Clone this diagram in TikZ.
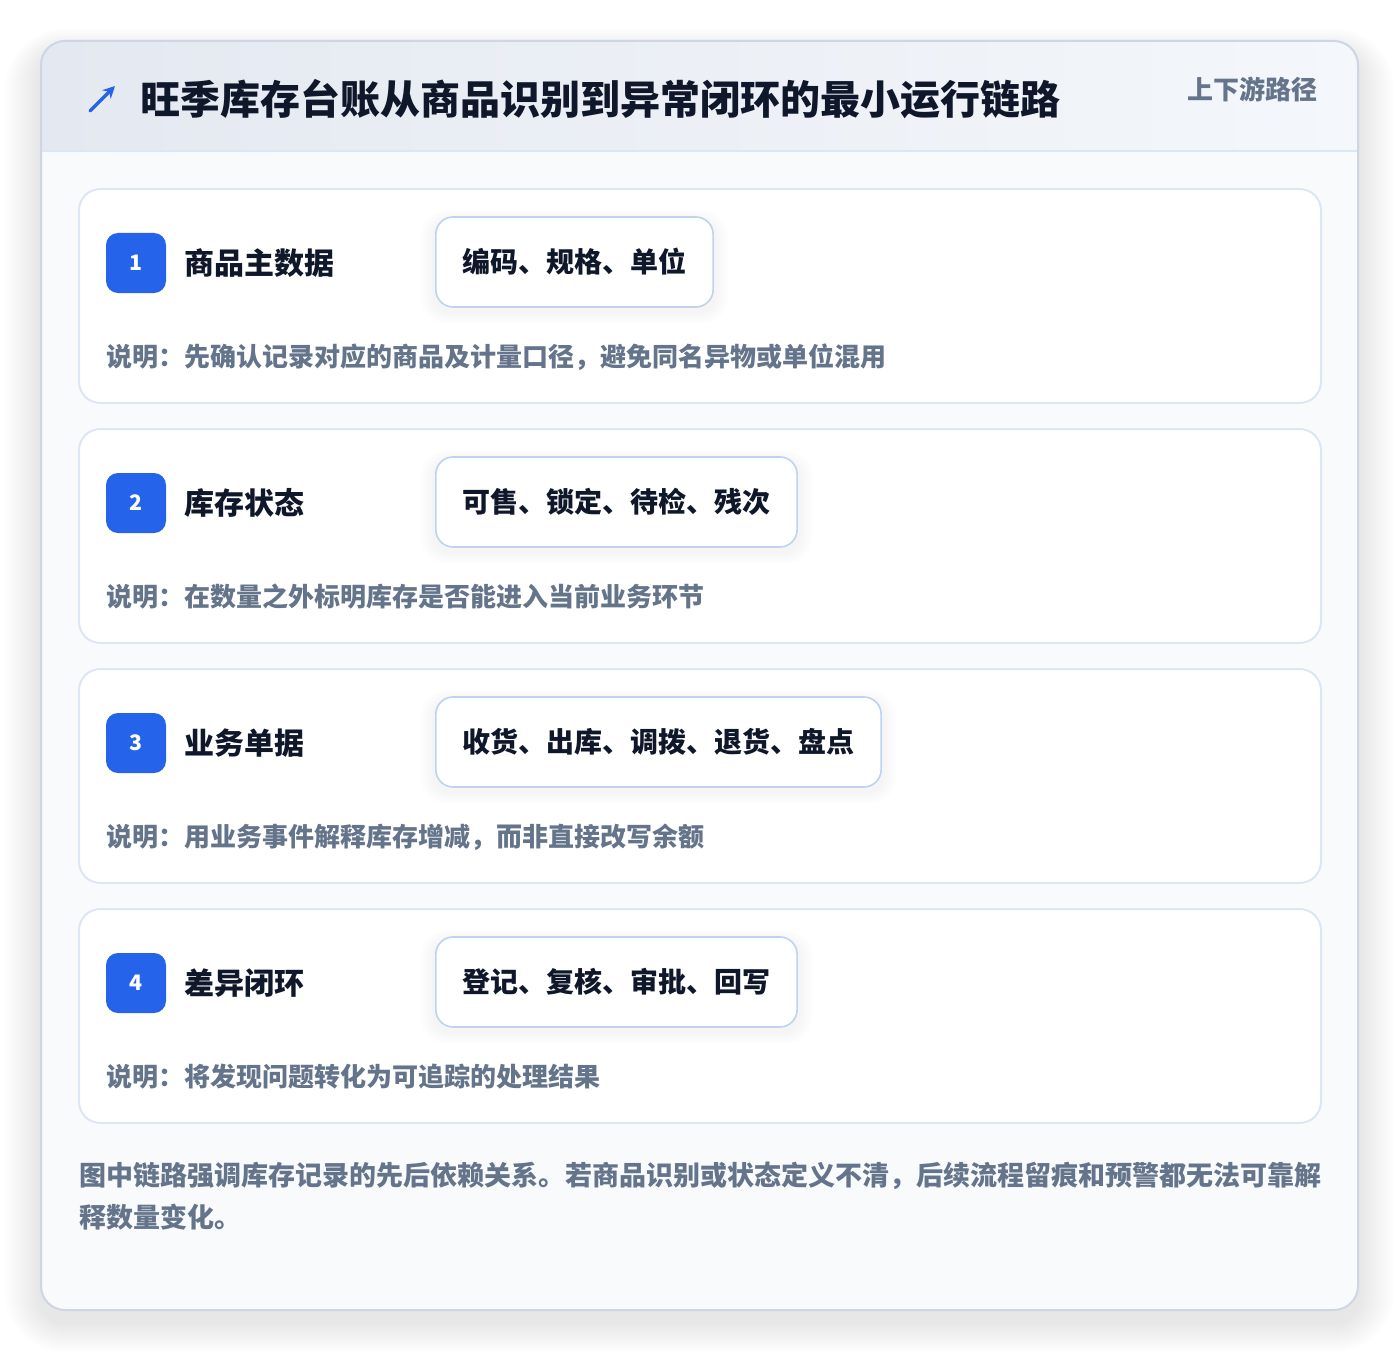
\documentclass[tikz,border=0pt]{standalone}
\usepackage{fontspec}
\newfontfamily\cjk{Noto Sans CJK SC}
\usetikzlibrary{arrows.meta}

\definecolor{ink}{HTML}{0F172A}
\definecolor{muted}{HTML}{64748B}
\definecolor{accent}{HTML}{2563EB}
\definecolor{frameline}{HTML}{CDD6E2}
\definecolor{cardline}{HTML}{DCE7F5}
\definecolor{pillline}{HTML}{BDD3F0}
\definecolor{headA}{HTML}{E4E9F1}
\definecolor{headB}{HTML}{F4F7FB}
\definecolor{bodybg}{HTML}{F8FAFC}

\tikzset{
  stepcard/.style={rounded corners=16pt, draw=cardline, line width=1.5pt, fill=white},
  badge/.style={rounded corners=9pt, fill=accent, text=white, minimum size=45pt, inner sep=0pt,
    font=\cjk\bfseries\fontsize{16}{18}\selectfont},
  steplabel/.style={anchor=west, inner sep=0pt, text=ink, font=\cjk\bfseries\fontsize{22.5}{26}\selectfont},
  pill/.style={anchor=west, rounded corners=13pt, draw=pillline, line width=1.2pt, fill=white,
    minimum height=67.5pt, inner xsep=20pt, text=ink, font=\cjk\bfseries\fontsize{21}{24}\selectfont},
  note/.style={anchor=west, inner sep=0pt, text=muted, font=\cjk\bfseries\fontsize{19.5}{22}\selectfont},
  haze/.style={fill=black, fill opacity=#1},
}

\begin{document}
\begin{tikzpicture}[x=0.75pt, y=-0.75pt]
    \useasboundingbox[fill=white] (0,0) rectangle (1400,1352);
    % soft shadow of the outer card
    \foreach \k in {1,...,12}
        \fill[haze=0.007, rounded corners=18pt+2.2*\k] (41-3*\k,53-2*\k) rectangle (1358+3*\k,1322+2.5*\k);
    \fill[white, rounded corners=18pt] (41,41) rectangle (1358,1310);
    \begin{scope}
        \clip[rounded corners=18pt] (41,41) rectangle (1358,1310);
        \fill[bodybg] (41,151) rectangle (1358,1310);
        \shade[left color=headA, right color=headB] (41,41) rectangle (1358,151);
        \draw[cardline, line width=1.5pt] (41,151) -- (1358,151);
    \end{scope}
    \draw[frameline, line width=1.5pt, rounded corners=18pt] (41,41) rectangle (1358,1310);

    % header
    \coordinate (iconfoot) at (90,111);
    \coordinate (icontip) at (115,86);
    \draw[accent, line width=2.4pt, line cap=round, -{Stealth[length=9pt, width=9pt]}] (iconfoot) -- (icontip);
    \node[anchor=west, inner sep=0pt, text=ink, font=\cjk\bfseries\fontsize{30}{34}\selectfont] (title) at (140,99)
        {旺季库存台账从商品识别到异常闭环的最小运行链路};
    \node[anchor=east, inner sep=0pt, text=muted, font=\cjk\bfseries\fontsize{19.5}{22}\selectfont] (route) at (1318,89)
        {上下游路径};

    % steps
    \foreach \ty/\n/\lab/\tags/\desc in {
        189/1/商品主数据/编码、规格、单位/说明：先确认记录对应的商品及计量口径，避免同名异物或单位混用,
        429/2/库存状态/可售、锁定、待检、残次/说明：在数量之外标明库存是否能进入当前业务环节,
        669/3/业务单据/收货、出库、调拨、退货、盘点/说明：用业务事件解释库存增减，而非直接改写余额,
        909/4/差异闭环/登记、复核、审批、回写/说明：将发现问题转化为可追踪的处理结果} {
        \path[stepcard] (79,\ty) rectangle (1321,\ty+214);
        \node[badge] (badge\n) at (136,\ty+74) {\n};
        \node[steplabel] (label\n) at (184,\ty+74) {\lab};
        \node[pill, text opacity=0, draw=none, fill=none] (slot\n) at (435,\ty+73) {\tags};
        \foreach \s in {1,...,5}
            \fill[haze=0.008, rounded corners=13pt+\s*1.5pt]
                ([xshift=-\s*2.2pt, yshift=-3pt-\s*1.8pt]slot\n.south west) rectangle
                ([xshift=\s*2.2pt, yshift=-3pt+\s*1.5pt]slot\n.north east);
        \node[pill, anchor=center] (tags\n) at (slot\n) {\tags};
        \node[note] (note\n) at (106,\ty+168) {\desc};
    }

    % footer
    \node[anchor=west, inner sep=0pt, align=left, text=muted,
        font=\cjk\bfseries\fontsize{20.25}{31.5}\selectfont] (summary) at (79,1196)
        {图中链路强调库存记录的先后依赖关系。若商品识别或状态定义不清，后续流程留痕和预警都无法可靠解\\释数量变化。};
\end{tikzpicture}
\end{document}
